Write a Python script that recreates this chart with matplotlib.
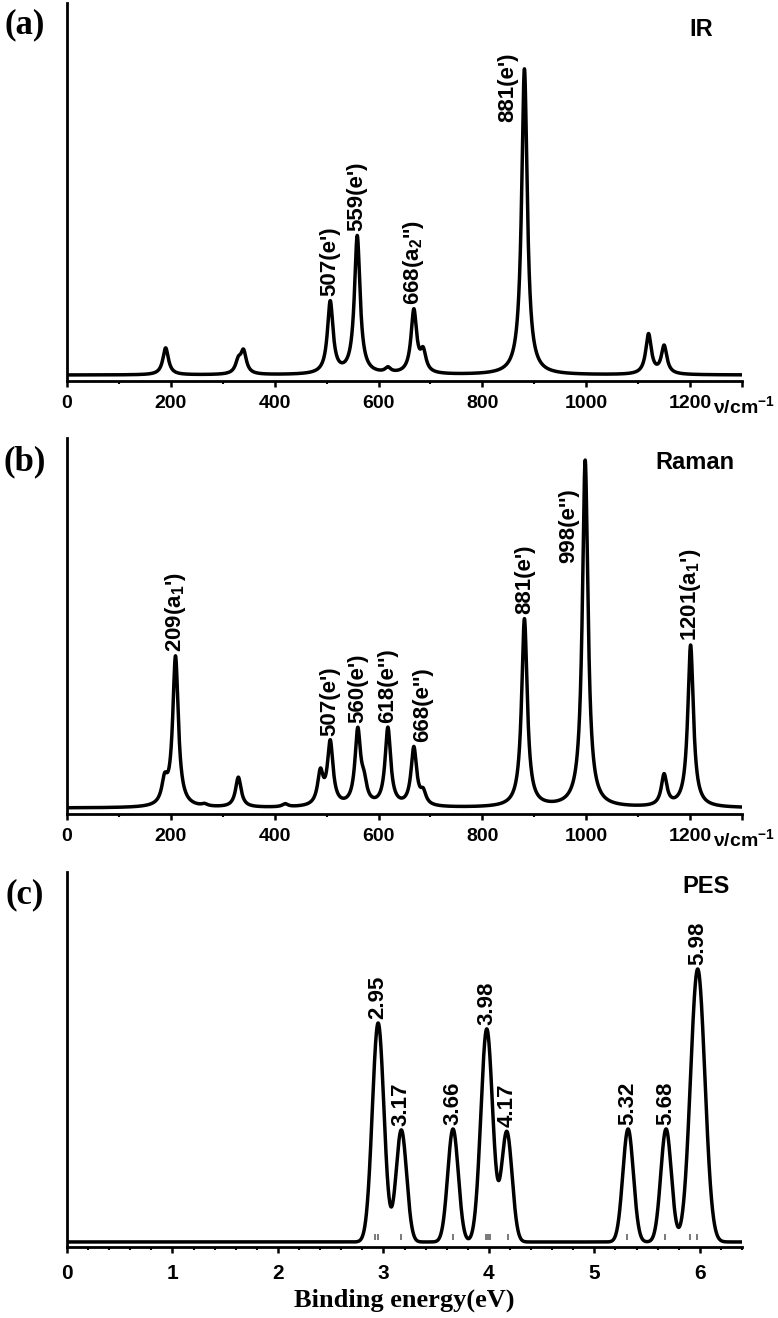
import numpy as np
import matplotlib
matplotlib.use("Agg")
import matplotlib.pyplot as plt
from matplotlib.transforms import ScaledTranslation

plt.rcParams["font.family"] = ["Liberation Sans", "DejaVu Sans"]
plt.rcParams["font.weight"] = "bold"
plt.rcParams["mathtext.fontset"] = "custom"
plt.rcParams["mathtext.rm"] = "Liberation Sans:bold"
plt.rcParams["mathtext.it"] = "Liberation Sans:bold"
plt.rcParams["mathtext.bf"] = "Liberation Sans:bold"

# ---- data (heights in arbitrary units) ----
ir_pos = [190, 330, 340, 507, 559, 618, 668, 686, 881, 1120, 1150]
ir_height = [27, 12, 22, 72, 138, 5, 63, 20, 306, 40, 28]
ir_label_pos = [507, 559, 668, 881]
ir_labels = ["507(e')", "559(e')", "668(a$_2$'')", "881(e')"]

raman_pos = [188, 209, 265, 330, 420, 488, 507, 560, 572, 618, 668, 686, 881, 998, 1150, 1201]
raman_height = [22, 150, 2, 30, 3, 32, 63, 74, 18, 78, 58, 12, 188, 347, 31, 162]
raman_label_pos = [209, 507, 560, 618, 668, 881, 998, 1201]
raman_labels = ["209(a$_1$')", "507(e')", "560(e')", "618(e'')", "668(e'')",
                "881(e')", "998(e'')", "1201(a$_1$')"]

pes_pos = [2.95, 3.17, 3.66, 3.98, 4.17, 5.32, 5.68, 5.98]
pes_height = [219, 112, 113, 213, 110, 113, 113, 273]
pes_sigma = [0.055, 0.05, 0.05, 0.056, 0.05, 0.05, 0.05, 0.068]
pes_labels = ["2.95", "3.17", "3.66", "3.98", "4.17", "5.32", "5.68", "5.98"]
pes_sticks = [2.92, 2.95, 3.17, 3.66, 3.97, 3.99, 4.01, 4.18, 5.31, 5.67, 5.91, 5.97]

wn_ticks = [0, 200, 400, 600, 800, 1000, 1200, 1300]
wn_ticklabels = ["0", "200", "400", "600", "800", "1000", "1200", "ν/cm$^{-1}$"]
ev_ticks = [0, 1, 2, 3, 4, 5, 6]


def lorentz_sum(x, pos, height, hwhm=6.5):
    y = np.zeros_like(x)
    for p, h in zip(pos, height):
        y += h * hwhm ** 2 / ((x - p) ** 2 + hwhm ** 2)
    return y


def gauss_sum(x, pos, height, sigma):
    y = np.zeros_like(x)
    for p, h, s in zip(pos, height, sigma):
        y += h * np.exp(-((x - p) ** 2) / (2 * s ** 2))
    return y


def style_axis(ax):
    for side in ("top", "right"):
        ax.spines[side].set_visible(False)
    for side in ("left", "bottom"):
        ax.spines[side].set_linewidth(2.0)
    ax.set_yticks([])
    ax.tick_params(axis="x", which="major", direction="out", length=4, width=1.8,
                   labelsize=14, pad=6)
    ax.tick_params(axis="x", which="minor", direction="out", length=2.5, width=1.5)


def unit_label_left(ax):
    # the last tick label (unit) starts just right of "1200"
    lab = ax.get_xticklabels()[-1]
    lab.set_horizontalalignment("left")
    lab.set_transform(lab.get_transform() + ScaledTranslation(-0.29, 0, fig.dpi_scale_trans))


def label_peaks(ax, x, y, pos, labels, offsets):
    for p, lab in zip(pos, labels):
        top = np.interp(p, x, y)
        dx, dy = offsets.get(p, (0, 3))
        ax.annotate(lab, xy=(p, top), xytext=(dx, dy), textcoords="offset points",
                    rotation=90, ha="center", va="bottom", fontsize=16,
                    fontweight="bold")


fig = plt.figure(figsize=(7.78, 13.18), dpi=100)
left, width = 67 / 778, 675 / 778

# ---- (a) IR ----
ax1 = fig.add_axes([left, 0.7109, width, 0.2868])
x_wn = np.linspace(0, 1300, 5201)
y_ir = lorentz_sum(x_wn, ir_pos, ir_height)
ax1.plot(x_wn, y_ir, color="black", lw=2.5)
ax1.set_xlim(0, 1300)
ax1.set_ylim(-6, 372)
ax1.set_xticks(wn_ticks)
ax1.set_xticklabels(wn_ticklabels)
ax1.set_xticks(np.arange(100, 1300, 200), minor=True)
style_axis(ax1)
unit_label_left(ax1)
label_peaks(ax1, x_wn, y_ir, ir_label_pos, ir_labels, {881: (-12, -38)})
ax1.text(0.94, 0.93, "IR", transform=ax1.transAxes, ha="center", va="center",
         fontsize=17, fontweight="bold")

# ---- (b) Raman ----
ax2 = fig.add_axes([left, 0.3824, width, 0.2853])
y_ra = lorentz_sum(x_wn, raman_pos, raman_height)
ax2.plot(x_wn, y_ra, color="black", lw=2.5)
ax2.set_xlim(0, 1300)
ax2.set_ylim(-6, 370)
ax2.set_xticks(wn_ticks)
ax2.set_xticklabels(wn_ticklabels)
ax2.set_xticks(np.arange(100, 1300, 200), minor=True)
style_axis(ax2)
unit_label_left(ax2)
label_peaks(ax2, x_wn, y_ra, raman_label_pos, raman_labels,
            {998: (-12, -74), 668: (6, 3)})
ax2.text(0.93, 0.935, "Raman", transform=ax2.transAxes, ha="center", va="center",
         fontsize=17, fontweight="bold")

# ---- (c) PES ----
ax3 = fig.add_axes([left, 0.0539, width, 0.2845])
x_ev = np.linspace(0, 6.4, 6401)
y_pes = gauss_sum(x_ev, pes_pos, pes_height, pes_sigma)
ax3.plot(x_ev, y_pes, color="black", lw=2.5)
ax3.vlines(pes_sticks, 2, 8, color="#6e6e6e", lw=1.3)
ax3.set_xlim(0, 6.4)
ax3.set_ylim(-5, 370)
ax3.set_xticks(ev_ticks)
ax3.set_xticks(np.arange(0, 6.41, 0.2), minor=True)
style_axis(ax3)
ax3.tick_params(axis="x", which="major", pad=8, labelsize=15)
label_peaks(ax3, x_ev, y_pes, pes_pos, pes_labels, {})
ax3.text(0.946, 0.96, "PES", transform=ax3.transAxes, ha="center", va="center",
         fontsize=17, fontweight="bold")
ax3.set_xlabel("Binding energy(eV)", family="Liberation Serif", fontweight="bold",
               fontsize=19, labelpad=4)

# panel letters
for ypix, letter in [(25, "(a)"), (462, "(b)"), (895, "(c)")]:
    fig.text(25 / 778, 1 - ypix / 1318, letter, ha="center", va="center",
             family="Liberation Serif", fontweight="bold", fontsize=25)

fig.savefig("out.png", dpi=100)
